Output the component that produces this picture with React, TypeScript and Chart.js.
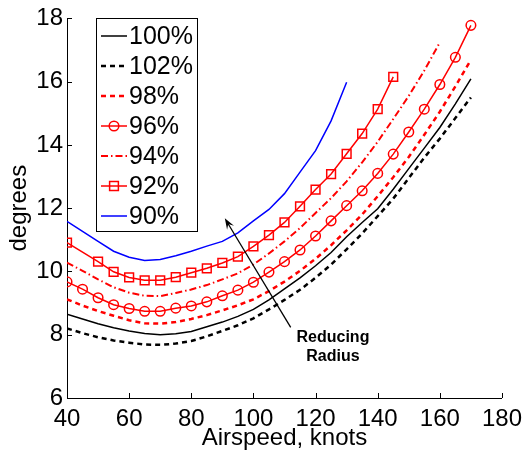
import React, { useEffect, useRef } from "react";
import { Chart, registerables } from "chart.js";

Chart.register(...registerables);

const FONT = "'Liberation Sans', Arial, Helvetica, sans-serif";

// Airspeed (knots)
const speeds = [40, 45, 50, 55, 60, 65, 70, 75, 80, 85, 90, 95, 100, 105, 110, 115, 120, 125, 130, 135, 140, 145, 150, 155, 160, 165, 170];
const speeds94 = [40, 45, 50, 55, 60, 65, 70, 75, 80, 85, 90, 95, 100, 105, 110, 115, 120, 125, 130, 135, 140, 145, 150, 155, 160];
const speeds92 = [40, 50, 55, 60, 65, 70, 75, 80, 85, 90, 95, 100, 105, 110, 115, 120, 125, 130, 135, 140, 145];
const speeds90 = [40, 45, 50, 55, 60, 65, 70, 75, 80, 85, 90, 95, 100, 105, 110, 115, 120, 125, 130];

// degrees
const pct100 = [8.65, 8.5, 8.35, 8.22, 8.12, 8.04, 8.0, 8.03, 8.1, 8.25, 8.4, 8.58, 8.8, 9.1, 9.45, 9.8, 10.18, 10.6, 11.1, 11.55, 11.98, 12.6, 13.25, 13.9, 14.55, 15.3, 16.09];
const pct102 = [8.2, 8.05, 7.92, 7.82, 7.75, 7.69, 7.68, 7.72, 7.8, 7.95, 8.12, 8.3, 8.52, 8.8, 9.1, 9.42, 9.8, 10.22, 10.7, 11.2, 11.75, 12.3, 12.95, 13.6, 14.2, 14.85, 15.5];
const pct98 = [9.12, 8.92, 8.75, 8.6, 8.46, 8.36, 8.35, 8.4, 8.5, 8.62, 8.77, 8.93, 9.12, 9.38, 9.68, 10.02, 10.4, 10.83, 11.3, 11.8, 12.38, 12.98, 13.62, 14.32, 15.05, 15.85, 16.69];
const pct96 = [9.67, 9.44, 9.17, 8.95, 8.83, 8.74, 8.74, 8.84, 8.91, 9.04, 9.23, 9.41, 9.66, 9.98, 10.31, 10.68, 11.12, 11.6, 12.08, 12.55, 13.1, 13.71, 14.41, 15.13, 15.91, 16.77, 17.78];
const pct94 = [10.28, 10.02, 9.75, 9.5, 9.33, 9.23, 9.22, 9.32, 9.43, 9.57, 9.75, 9.94, 10.22, 10.57, 10.95, 11.37, 11.85, 12.32, 12.85, 13.45, 14.1, 14.82, 15.55, 16.35, 17.24];
const pct92 = [10.91, 10.31, 9.99, 9.81, 9.72, 9.72, 9.82, 9.96, 10.1, 10.27, 10.47, 10.79, 11.15, 11.55, 12.06, 12.59, 13.08, 13.72, 14.36, 15.13, 16.15];
const pct90 = [11.58, 11.27, 10.95, 10.64, 10.45, 10.35, 10.38, 10.5, 10.64, 10.8, 10.95, 11.22, 11.6, 11.96, 12.46, 13.14, 13.82, 14.76, 15.98];

const legendLabels = ["100%", "102%", "98%", "96%", "94%", "92%", "90%"];
const xTickValues = [40, 60, 80, 100, 120, 140, 160, 180];
const yTickValues = [6, 8, 10, 12, 14, 16, 18];

// annotation (data coordinates)
const arrowFrom = [112, 8.23];
const arrowTo = [90.8, 11.68];
const noteLines = ["Reducing", "Radius"];
const noteAt = [125.6, 7.92];

const pts = (xs: number[], ys: number[]) => xs.map((x, i) => ({ x, y: ys[i] }));

const overlayPlugin = {
  id: "overlay",
  afterDraw(chart: any) {
    const { ctx, chartArea, scales } = chart;
    const xs = scales.x;
    const ys = scales.y;
    ctx.save();
    // inward ticks
    ctx.strokeStyle = "#000";
    ctx.lineWidth = 1;
    ctx.setLineDash([]);
    ctx.beginPath();
    xTickValues.forEach((v) => {
      const px = Math.round(xs.getPixelForValue(v)) + 0.5;
      ctx.moveTo(px, chartArea.bottom);
      ctx.lineTo(px, chartArea.bottom - 5);
    });
    yTickValues.forEach((v) => {
      const py = Math.round(ys.getPixelForValue(v)) + 0.5;
      ctx.moveTo(chartArea.left, py);
      ctx.lineTo(chartArea.left + 5, py);
    });
    ctx.stroke();

    // arrow
    const x1 = xs.getPixelForValue(arrowFrom[0]);
    const y1 = ys.getPixelForValue(arrowFrom[1]);
    const x2 = xs.getPixelForValue(arrowTo[0]);
    const y2 = ys.getPixelForValue(arrowTo[1]);
    const ang = Math.atan2(y2 - y1, x2 - x1);
    const hl = 11;
    const hw = 4;
    ctx.beginPath();
    ctx.lineWidth = 1.3;
    ctx.moveTo(x1, y1);
    ctx.lineTo(x2 - Math.cos(ang) * hl * 0.6, y2 - Math.sin(ang) * hl * 0.6);
    ctx.stroke();
    ctx.beginPath();
    ctx.fillStyle = "#000";
    ctx.moveTo(x2, y2);
    ctx.lineTo(x2 - Math.cos(ang) * hl - Math.sin(ang) * hw, y2 - Math.sin(ang) * hl + Math.cos(ang) * hw);
    ctx.lineTo(x2 - Math.cos(ang) * hl * 0.6, y2 - Math.sin(ang) * hl * 0.6);
    ctx.lineTo(x2 - Math.cos(ang) * hl + Math.sin(ang) * hw, y2 - Math.sin(ang) * hl - Math.cos(ang) * hw);
    ctx.closePath();
    ctx.fill();

    // note
    ctx.font = `bold 16px ${FONT}`;
    ctx.textAlign = "center";
    ctx.textBaseline = "middle";
    const nx = xs.getPixelForValue(noteAt[0]);
    const ny = ys.getPixelForValue(noteAt[1]);
    noteLines.forEach((t, i) => ctx.fillText(t, nx, ny + i * 19));

    // legend
    const bx = 96, by = 18, bw = 101, bh = 213;
    ctx.fillStyle = "#fff";
    ctx.fillRect(bx, by, bw, bh);
    ctx.strokeStyle = "#000";
    ctx.lineWidth = 1;
    ctx.strokeRect(bx + 0.5, by + 0.5, bw, bh);
    ctx.font = `25px ${FONT}`;
    ctx.textAlign = "left";
    ctx.textBaseline = "middle";
    chart.data.datasets.forEach((ds: any, i: number) => {
      const y = 36 + i * 30;
      ctx.strokeStyle = ds.borderColor;
      ctx.lineWidth = ds.borderWidth;
      ctx.setLineDash(ds.borderDash || []);
      ctx.beginPath();
      ctx.moveTo(101, y);
      ctx.lineTo(127, y);
      ctx.stroke();
      ctx.setLineDash([]);
      if (ds.pointRadius > 0) {
        ctx.lineWidth = ds.pointBorderWidth;
        ctx.beginPath();
        if (ds.pointStyle === "rect") {
          const s = ds.pointRadius * Math.SQRT1_2;
          ctx.rect(114 - s, y - s, 2 * s, 2 * s);
        } else {
          ctx.arc(114, y, ds.pointRadius, 0, Math.PI * 2);
        }
        ctx.stroke();
      }
      ctx.fillStyle = "#000";
      ctx.fillText(legendLabels[i], 129, y + 1);
    });
    ctx.restore();
  },
};

export default function App() {
  const ref = useRef<HTMLCanvasElement | null>(null);
  useEffect(() => {
    if (!ref.current) return;
    const base = { tension: 0, fill: false, pointRadius: 0, pointBorderWidth: 1.5, pointBackgroundColor: "rgba(0,0,0,0)" };
    const chart = new Chart(ref.current, {
      type: "line",
      data: {
        datasets: [
          { ...base, label: legendLabels[0], data: pts(speeds, pct100), borderColor: "#000000", borderWidth: 1.5 },
          { ...base, label: legendLabels[1], data: pts(speeds, pct102), borderColor: "#000000", borderWidth: 2.5, borderDash: [5, 4] },
          { ...base, label: legendLabels[2], data: pts(speeds, pct98), borderColor: "#ff0000", borderWidth: 2.5, borderDash: [5, 4] },
          { ...base, label: legendLabels[3], data: pts(speeds, pct96), borderColor: "#ff0000", borderWidth: 1.5, pointRadius: 4.8, pointStyle: "circle", pointBorderColor: "#ff0000" },
          { ...base, label: legendLabels[4], data: pts(speeds94, pct94), borderColor: "#ff0000", borderWidth: 2, borderDash: [7, 3, 1.5, 3] },
          { ...base, label: legendLabels[5], data: pts(speeds92, pct92), borderColor: "#ff0000", borderWidth: 1.5, pointRadius: 6.2, pointStyle: "rect", pointBorderColor: "#ff0000" },
          { ...base, label: legendLabels[6], data: pts(speeds90, pct90), borderColor: "#0000ff", borderWidth: 1.5 },
        ],
      } as any,
      options: {
        animation: false,
        responsive: false,
        devicePixelRatio: 1,
        layout: { padding: { top: 15, right: 22, left: 0, bottom: 0 } },
        plugins: { legend: { display: false }, tooltip: { enabled: false } },
        scales: {
          x: {
            type: "linear",
            min: 40,
            max: 180,
            afterFit: (s: any) => { s.height = 58; },
            grid: { display: false, drawTicks: false },
            border: { display: true, color: "#000", width: 1 },
            ticks: { stepSize: 20, color: "#000", font: { family: FONT, size: 24 }, padding: 7, autoSkip: false, maxRotation: 0 },
            title: { display: true, text: "Airspeed, knots", color: "#000", font: { family: FONT, size: 24 }, padding: { top: 0, bottom: 3 } },
          },
          y: {
            type: "linear",
            min: 6,
            max: 18,
            afterFit: (s: any) => { s.width = 67; },
            grid: { display: false, drawTicks: false },
            border: { display: true, color: "#000", width: 1 },
            ticks: { stepSize: 2, color: "#000", font: { family: FONT, size: 24 }, padding: 4, autoSkip: false },
            title: { display: true, text: "degrees", color: "#000", font: { family: FONT, size: 24 }, padding: { top: 5, bottom: 0 } },
          },
        },
      } as any,
      plugins: [overlayPlugin],
    });
    return () => chart.destroy();
  }, []);
  return (
    <div style={{ position: "absolute", left: 0, top: 0, width: 529, height: 456, background: "#fff" }}>
      <canvas ref={ref} width={529} height={456} style={{ width: 529, height: 456 }} />
    </div>
  );
}
